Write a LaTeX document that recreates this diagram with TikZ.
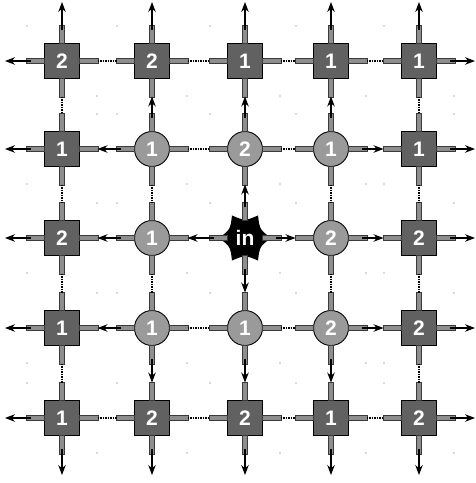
\documentclass[tikz,border=0pt]{standalone}
\usepackage{fontspec}
\setmainfont{Liberation Sans}
\usetikzlibrary{arrows.meta,calc}
\definecolor{sqfill}{HTML}{616161}
\definecolor{cifill}{HTML}{9A9A9A}
\definecolor{stubfill}{HTML}{8E8E8E}
\definecolor{stubline}{HTML}{3A3A3A}
\tikzset{
  lbl/.style={text=white, font=\fontsize{21}{21}\selectfont\bfseries, inner sep=0pt},
  sq/.style={lbl, rectangle, draw=black, line width=0.9pt, fill=sqfill, minimum size=35pt},
  ci/.style={lbl, circle, draw=black, line width=0.9pt, fill=cifill, minimum size=35pt},
  stubbox/.style={fill=stubfill, draw=stubline, line width=0.7pt},
  nolink/.style={densely dotted, line width=1.5pt},
  link/.style={line width=1.1pt, -{Stealth[length=10pt,width=7.5pt]}},
  dotmark/.style={fill=black!65}
}
\begin{document}
\begin{tikzpicture}[x=1pt,y=-1pt]
\useasboundingbox (0,0) rectangle (476,483);
\foreach \r/\yy in {1/61,2/149,3/238,4/328,5/418}{
  \foreach \c/\xx in {1/62,2/152,3/245,4/331,5/419}{
    \coordinate (p-\r-\c) at (\xx,\yy);
    \coordinate (n-\r-\c-L) at ($(p-\r-\c)+(-35.5,0)$);
    \coordinate (n-\r-\c-R) at ($(p-\r-\c)+(35.5,0)$);
    \coordinate (n-\r-\c-T) at ($(p-\r-\c)+(0,-35.5)$);
    \coordinate (n-\r-\c-B) at ($(p-\r-\c)+(0,35.5)$);
    \coordinate (n-\r-\c-l) at ($(p-\r-\c)+(-31,0)$);
    \coordinate (n-\r-\c-r) at ($(p-\r-\c)+(31,0)$);
    \coordinate (n-\r-\c-t) at ($(p-\r-\c)+(0,-31)$);
    \coordinate (n-\r-\c-b) at ($(p-\r-\c)+(0,31)$);
    \coordinate (n-\r-\c-oL) at ($(p-\r-\c)+(-57,0)$);
    \coordinate (n-\r-\c-oR) at ($(p-\r-\c)+(56,0)$);
    \coordinate (n-\r-\c-oT) at ($(p-\r-\c)+(0,-59)$);
    \coordinate (n-\r-\c-oB) at ($(p-\r-\c)+(0,57)$);
  }
}
% background dots
\foreach \r/\c in {1/1,1/2,1/3,1/4,1/5,2/2,2/3,2/4,3/2,3/3,3/4,4/2,4/3,4/4,5/1,5/2,5/3,5/4,5/5}{
  \fill[dotmark] ($(p-\r-\c)+(-35,-35)$) circle (0.6);
  \fill[dotmark] ($(p-\r-\c)+(35,35)$) circle (0.6);
}
\foreach \r/\c in {2/1,3/1,4/1,2/5,3/5,4/5}{
  \fill[dotmark] ($(p-\r-\c)+(35,-35)$) circle (0.6);
  \fill[dotmark] ($(p-\r-\c)+(-35,35)$) circle (0.6);
}
% star for the input node
\fill[black] ([shift={(0:26)}]p-3-3)
  .. controls ([shift={(30:17)}]p-3-3) .. ([shift={(60:26)}]p-3-3)
  .. controls ([shift={(90:17)}]p-3-3) .. ([shift={(120:26)}]p-3-3)
  .. controls ([shift={(150:17)}]p-3-3) .. ([shift={(180:26)}]p-3-3)
  .. controls ([shift={(210:17)}]p-3-3) .. ([shift={(240:26)}]p-3-3)
  .. controls ([shift={(270:17)}]p-3-3) .. ([shift={(300:26)}]p-3-3)
  .. controls ([shift={(330:17)}]p-3-3) .. cycle;
% nodes
\node[sq] (n-1-1) at (p-1-1) {2};
\node[sq] (n-1-2) at (p-1-2) {2};
\node[sq] (n-1-3) at (p-1-3) {1};
\node[sq] (n-1-4) at (p-1-4) {1};
\node[sq] (n-1-5) at (p-1-5) {1};
\node[sq] (n-2-1) at (p-2-1) {1};
\node[ci] (n-2-2) at (p-2-2) {1};
\node[ci] (n-2-3) at (p-2-3) {2};
\node[ci] (n-2-4) at (p-2-4) {1};
\node[sq] (n-2-5) at (p-2-5) {1};
\node[sq] (n-3-1) at (p-3-1) {2};
\node[ci] (n-3-2) at (p-3-2) {1};
\node[lbl] (n-3-3) at (p-3-3) {in};
\node[ci] (n-3-4) at (p-3-4) {2};
\node[sq] (n-3-5) at (p-3-5) {2};
\node[sq] (n-4-1) at (p-4-1) {1};
\node[ci] (n-4-2) at (p-4-2) {1};
\node[ci] (n-4-3) at (p-4-3) {1};
\node[ci] (n-4-4) at (p-4-4) {2};
\node[sq] (n-4-5) at (p-4-5) {2};
\node[sq] (n-5-1) at (p-5-1) {1};
\node[sq] (n-5-2) at (p-5-2) {2};
\node[sq] (n-5-3) at (p-5-3) {2};
\node[sq] (n-5-4) at (p-5-4) {1};
\node[sq] (n-5-5) at (p-5-5) {2};
% stubs
\foreach \r in {1,...,5}{
  \foreach \c in {1,...,5}{
    \filldraw[stubbox] ($(p-\r-\c)+(17.5,-2.5)$) rectangle ($(p-\r-\c)+(36,2.5)$);
    \filldraw[stubbox] ($(p-\r-\c)+(-17.5,-2.5)$) rectangle ($(p-\r-\c)+(-36,2.5)$);
    \filldraw[stubbox] ($(p-\r-\c)+(-2.5,17.5)$) rectangle ($(p-\r-\c)+(2.5,36)$);
    \filldraw[stubbox] ($(p-\r-\c)+(-2.5,-17.5)$) rectangle ($(p-\r-\c)+(2.5,-36)$);
  }
}
% unused links (dotted)
\foreach \a/\b in {1-1/1-2,1-2/1-3,1-3/1-4,1-4/1-5,2-2/2-3,2-3/2-4,4-2/4-3,4-3/4-4,5-1/5-2,5-2/5-3,5-3/5-4,5-4/5-5}{
  \draw[nolink] (n-\a-R) -- (n-\b-L);
}
\foreach \a/\b in {1-1/2-1,2-1/3-1,3-1/4-1,4-1/5-1,2-2/3-2,3-2/4-2,2-4/3-4,3-4/4-4,1-5/2-5,2-5/3-5,3-5/4-5,4-5/5-5}{
  \draw[nolink] (n-\a-B) -- (n-\b-T);
}
% active links
\foreach \a/\b in {2-2/2-1,3-2/3-1,3-3/3-2,4-2/4-1}{
  \draw[link] (n-\a-l) -- (n-\b-R);
}
\foreach \a/\b in {2-4/2-5,3-3/3-4,3-4/3-5,4-4/4-5}{
  \draw[link] (n-\a-r) -- (n-\b-L);
}
\foreach \a/\b in {2-2/1-2,2-3/1-3,3-3/2-3,2-4/1-4}{
  \draw[link] (n-\a-t) -- (n-\b-B);
}
\foreach \a/\b in {4-2/5-2,3-3/4-3,4-3/5-3,4-4/5-4}{
  \draw[link] (n-\a-b) -- (n-\b-T);
}
% border outputs
\foreach \r in {1,...,5}{
  \draw[link] (n-\r-1-l) -- (n-\r-1-oL);
  \draw[link] (n-\r-5-r) -- (n-\r-5-oR);
}
\foreach \c in {1,...,5}{
  \draw[link] (n-1-\c-t) -- (n-1-\c-oT);
  \draw[link] (n-5-\c-b) -- (n-5-\c-oB);
}
\end{tikzpicture}
\end{document}
